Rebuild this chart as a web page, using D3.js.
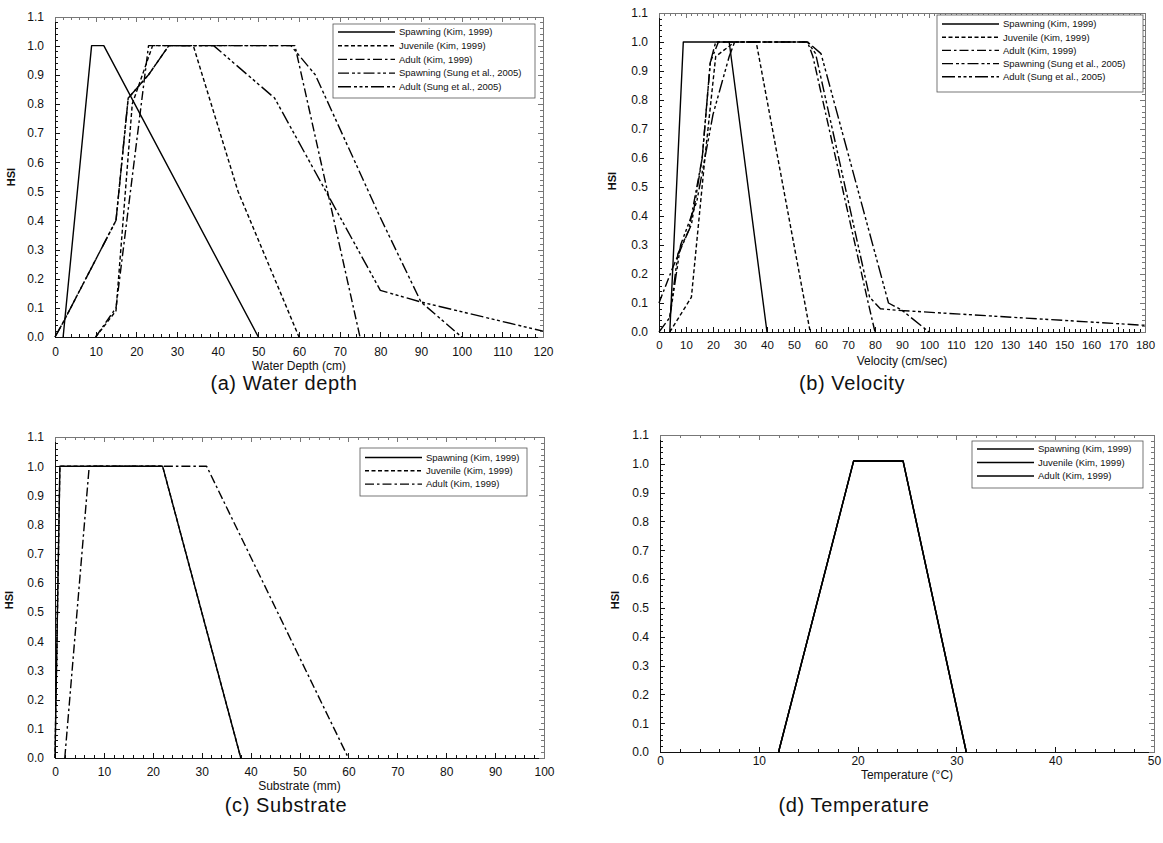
<!DOCTYPE html>
<html lang="en">
<head>
<meta charset="utf-8">
<title>HSI curves</title>
<script src="https://d3js.org/d3.v7.min.js"></script>
<style>
  body { margin: 0; background: #fff; }
  svg text { font-family: "Liberation Sans", Arial, sans-serif; fill: #111; }
  .axis path, .axis line { fill: none; stroke: #111; shape-rendering: crispEdges; }
  .axis text { font-size: 12px; }
  .far path, .far line { stroke: #777; }
  .curve { fill: none; stroke: #000; stroke-width: 1.4; stroke-linejoin: round; }
</style>
</head>
<body>
<script>
// legend texts
const labels5 = ["Spawning (Kim, 1999)", "Juvenile (Kim, 1999)", "Adult (Kim, 1999)",
                 "Spawning (Sung et al., 2005)", "Adult (Sung et al., 2005)"];
const labels3 = ["Spawning (Kim, 1999)", "Juvenile (Kim, 1999)", "Adult (Kim, 1999)"];

// (a) water depth (cm) -> HSI
const depthSpawnKim = [[2,0],[9,1],[12,1],[50,0]];
const depthJuvKim = [[10,0],[15,0.09],[19,0.8],[24,1],[34,1],[45,0.5],[60,0]];
const depthAdultKim = [[10,0],[15,0.1],[23,1],[59,1],[75,0]];
const depthSpawnSung = [[0,0],[2,0.05],[15,0.4],[18,0.82],[23,0.9],[28,1],[58,1],[64,0.9],[80,0.41],[90,0.12],[100,0]];
const depthAdultSung = [[0,0],[2,0.05],[15,0.4],[18,0.82],[23,0.9],[28,1],[39,1],[54,0.82],[80,0.16],[90,0.12],[120,0.02]];

// (b) velocity (cm/sec) -> HSI
const velSpawnKim = [[4,0],[9,1],[26,1],[40,0]];
const velJuvKim = [[4,0],[12,0.12],[17,0.6],[21,0.95],[28,1],[36,1],[56,0]];
const velAdultKim = [[0,0.1],[5,0.22],[11,0.35],[16,0.6],[19,0.93],[22,1],[55,1],[57,0.95],[77,0.12],[80,0]];
const velSpawnSung = [[0,0],[4,0.05],[7,0.27],[12,0.37],[16,0.6],[19,0.93],[21,1],[55,1],[58,0.96],[78,0.12],[82,0.08],[88,0.075],[180,0.023]];
const velAdultSung = [[4,0.05],[8,0.3],[14,0.45],[20,0.75],[26,0.95],[28,1],[55,1],[60,0.96],[85,0.1],[90,0.075],[100,0]];

// (c) substrate (mm) -> HSI
const subSpawnKim = [[0,0],[1,1],[22,1],[38,0]];
const subJuvKim = [[0,0],[1,1],[22,1],[38,0]];
const subAdultKim = [[2,0],[7,1],[31,1],[60,0]];

// (d) temperature (C) -> HSI
const tempSpawnKim = [[12,0],[19.6,1.01],[24.6,1.01],[31,0]];
const tempJuvKim = [[12,0],[19.6,1.01],[24.6,1.01],[31,0]];
const tempAdultKim = [[12,0],[19.6,1.01],[24.6,1.01],[31,0]];

const yTicks = d3.range(0, 12).map(i => i / 10);
const yMinor = d3.range(0, 56).filter(i => i % 5).map(i => i / 50);

const dashes = [null, "4,2.5", "9,3,2.5,3", "11,3,3,2.5,3,3", "13,3,3,2.5,3,2.5,3,3"];

const panels = [
  {x0: 55, x1: 543, y0: 337, y1: 16.5, xMax: 120, pad: 10, tickFont: 12,
   xTitle: "Water Depth (cm)", titleY: 370, hsi: [15, 177],
   caption: "(a)  Water depth", cap: [284, 390],
   series: [depthSpawnKim, depthJuvKim, depthAdultKim, depthSpawnSung, depthAdultSung],
   labels: labels5, dash: dashes,
   legend: {x: 333, y: 24, w: 202, h: 74, top: 8, step: 13.7}},
  {x0: 659, x1: 1145, y0: 332, y1: 13, xMax: 180, pad: 9, tickFont: 11.5,
   xTitle: "Velocity (cm/sec)", titleY: 365, hsi: [616, 181],
   caption: "(b)  Velocity", cap: [852, 390],
   series: [velSpawnKim, velJuvKim, velAdultKim, velSpawnSung, velAdultSung],
   labels: labels5, dash: dashes,
   legend: {x: 937, y: 15, w: 206, h: 77, top: 9, step: 13.2}},
  {x0: 55, x1: 544, y0: 758, y1: 437, xMax: 100, pad: 9, tickFont: 12,
   xTitle: "Substrate (mm)", titleY: 790, hsi: [13, 600],
   caption: "(c)  Substrate", cap: [286, 812],
   series: [subJuvKim, subSpawnKim, subAdultKim],
   labels: labels3, dash: [null, "4,2.5", "9,3,2.5,3"], order: [1, 0, 2],
   legend: {x: 360, y: 448, w: 167, h: 48, top: 9.5, step: 13.3}},
  {x0: 660, x1: 1154, y0: 752, y1: 435, xMax: 50, pad: 4, tickFont: 12,
   xTitle: "Temperature (°C)", titleY: 779, hsi: [619, 600],
   caption: "(d)  Temperature", cap: [854, 812],
   series: [tempSpawnKim, tempJuvKim, tempAdultKim],
   labels: labels3, dash: [null, null, null],
   legend: {x: 972, y: 441, w: 171, h: 47, top: 8, step: 13.5}}
];

const svg = d3.select("body").append("svg")
  .attr("width", 1163).attr("height", 843);

panels.forEach(p => {
  const x = d3.scaleLinear().domain([0, p.xMax]).range([p.x0, p.x1]);
  const y = d3.scaleLinear().domain([0, 1.1]).range([p.y0, p.y1]);
  const xMajor = d3.range(0, p.xMax + 1, 10);
  const xMinor = d3.range(0, p.xMax + 1, 2).filter(v => v % 10);

  // bottom + left with labels, top + right mirrored, ticks inward
  svg.append("g").attr("class", "axis").attr("transform", `translate(0,${p.y0})`)
    .call(d3.axisBottom(x).tickValues(xMajor).tickSize(-5).tickSizeOuter(0).tickPadding(p.pad))
    .selectAll("text").style("font-size", p.tickFont + "px");
  svg.append("g").attr("class", "axis").attr("transform", `translate(0,${p.y0})`)
    .call(d3.axisBottom(x).tickValues(xMinor).tickSize(-3).tickSizeOuter(0).tickFormat(""));
  svg.append("g").attr("class", "axis").attr("transform", `translate(${p.x0},0)`)
    .call(d3.axisLeft(y).tickValues(yTicks).tickSize(-5).tickSizeOuter(0).tickPadding(11).tickFormat(d3.format(".1f")));
  svg.append("g").attr("class", "axis").attr("transform", `translate(${p.x0},0)`)
    .call(d3.axisLeft(y).tickValues(yMinor).tickSize(-3).tickSizeOuter(0).tickFormat(""));
  svg.append("g").attr("class", "axis far").attr("transform", `translate(0,${p.y1})`)
    .call(d3.axisTop(x).tickValues(xMajor).tickSize(-5).tickSizeOuter(0).tickFormat(""));
  svg.append("g").attr("class", "axis far").attr("transform", `translate(0,${p.y1})`)
    .call(d3.axisTop(x).tickValues(xMinor).tickSize(-3).tickSizeOuter(0).tickFormat(""));
  svg.append("g").attr("class", "axis far").attr("transform", `translate(${p.x1},0)`)
    .call(d3.axisRight(y).tickValues(yTicks).tickSize(-5).tickSizeOuter(0).tickFormat(""));
  svg.append("g").attr("class", "axis far").attr("transform", `translate(${p.x1},0)`)
    .call(d3.axisRight(y).tickValues(yMinor).tickSize(-3).tickSizeOuter(0).tickFormat(""));

  // axis titles
  svg.append("text").attr("x", (p.x0 + p.x1) / 2).attr("y", p.titleY)
    .attr("text-anchor", "middle").attr("font-size", "12px").text(p.xTitle);
  svg.append("text").attr("transform", `translate(${p.hsi[0]},${p.hsi[1]}) rotate(-90)`)
    .attr("text-anchor", "middle").attr("font-size", "11px").attr("font-weight", "bold").text("HSI");

  // curves
  const line = d3.line().x(d => x(d[0])).y(d => y(d[1]));
  const order = p.order || p.series.map((s, i) => i);
  order.forEach(i => {
    svg.append("path").attr("class", "curve")
      .attr("d", line(p.series[i]))
      .attr("stroke-dasharray", p.dash[i])
      .attr("stroke-width", i === 0 ? 1.6 : 1.4);
  });

  // legend
  const lg = p.legend;
  svg.append("rect").attr("x", lg.x).attr("y", lg.y).attr("width", lg.w).attr("height", lg.h)
    .attr("fill", "#fff").attr("stroke", "#555").attr("stroke-width", 0.8);
  p.labels.forEach((lab, i) => {
    const ly = lg.y + lg.top + i * lg.step;
    svg.append("line").attr("x1", lg.x + 5).attr("x2", lg.x + 62).attr("y1", ly).attr("y2", ly)
      .attr("stroke", "#000").attr("stroke-width", i === 0 ? 1.6 : 1.4)
      .attr("stroke-dasharray", p.dash[i]);
    svg.append("text").attr("x", lg.x + 66).attr("y", ly + 3.3)
      .attr("font-size", "9.5px").text(lab);
  });

  // caption
  svg.append("text").attr("x", p.cap[0]).attr("y", p.cap[1])
    .attr("text-anchor", "middle").attr("font-size", "20px").attr("letter-spacing", "0.6px")
    .attr("fill", "#222").text(p.caption);
});
</script>
</body>
</html>
